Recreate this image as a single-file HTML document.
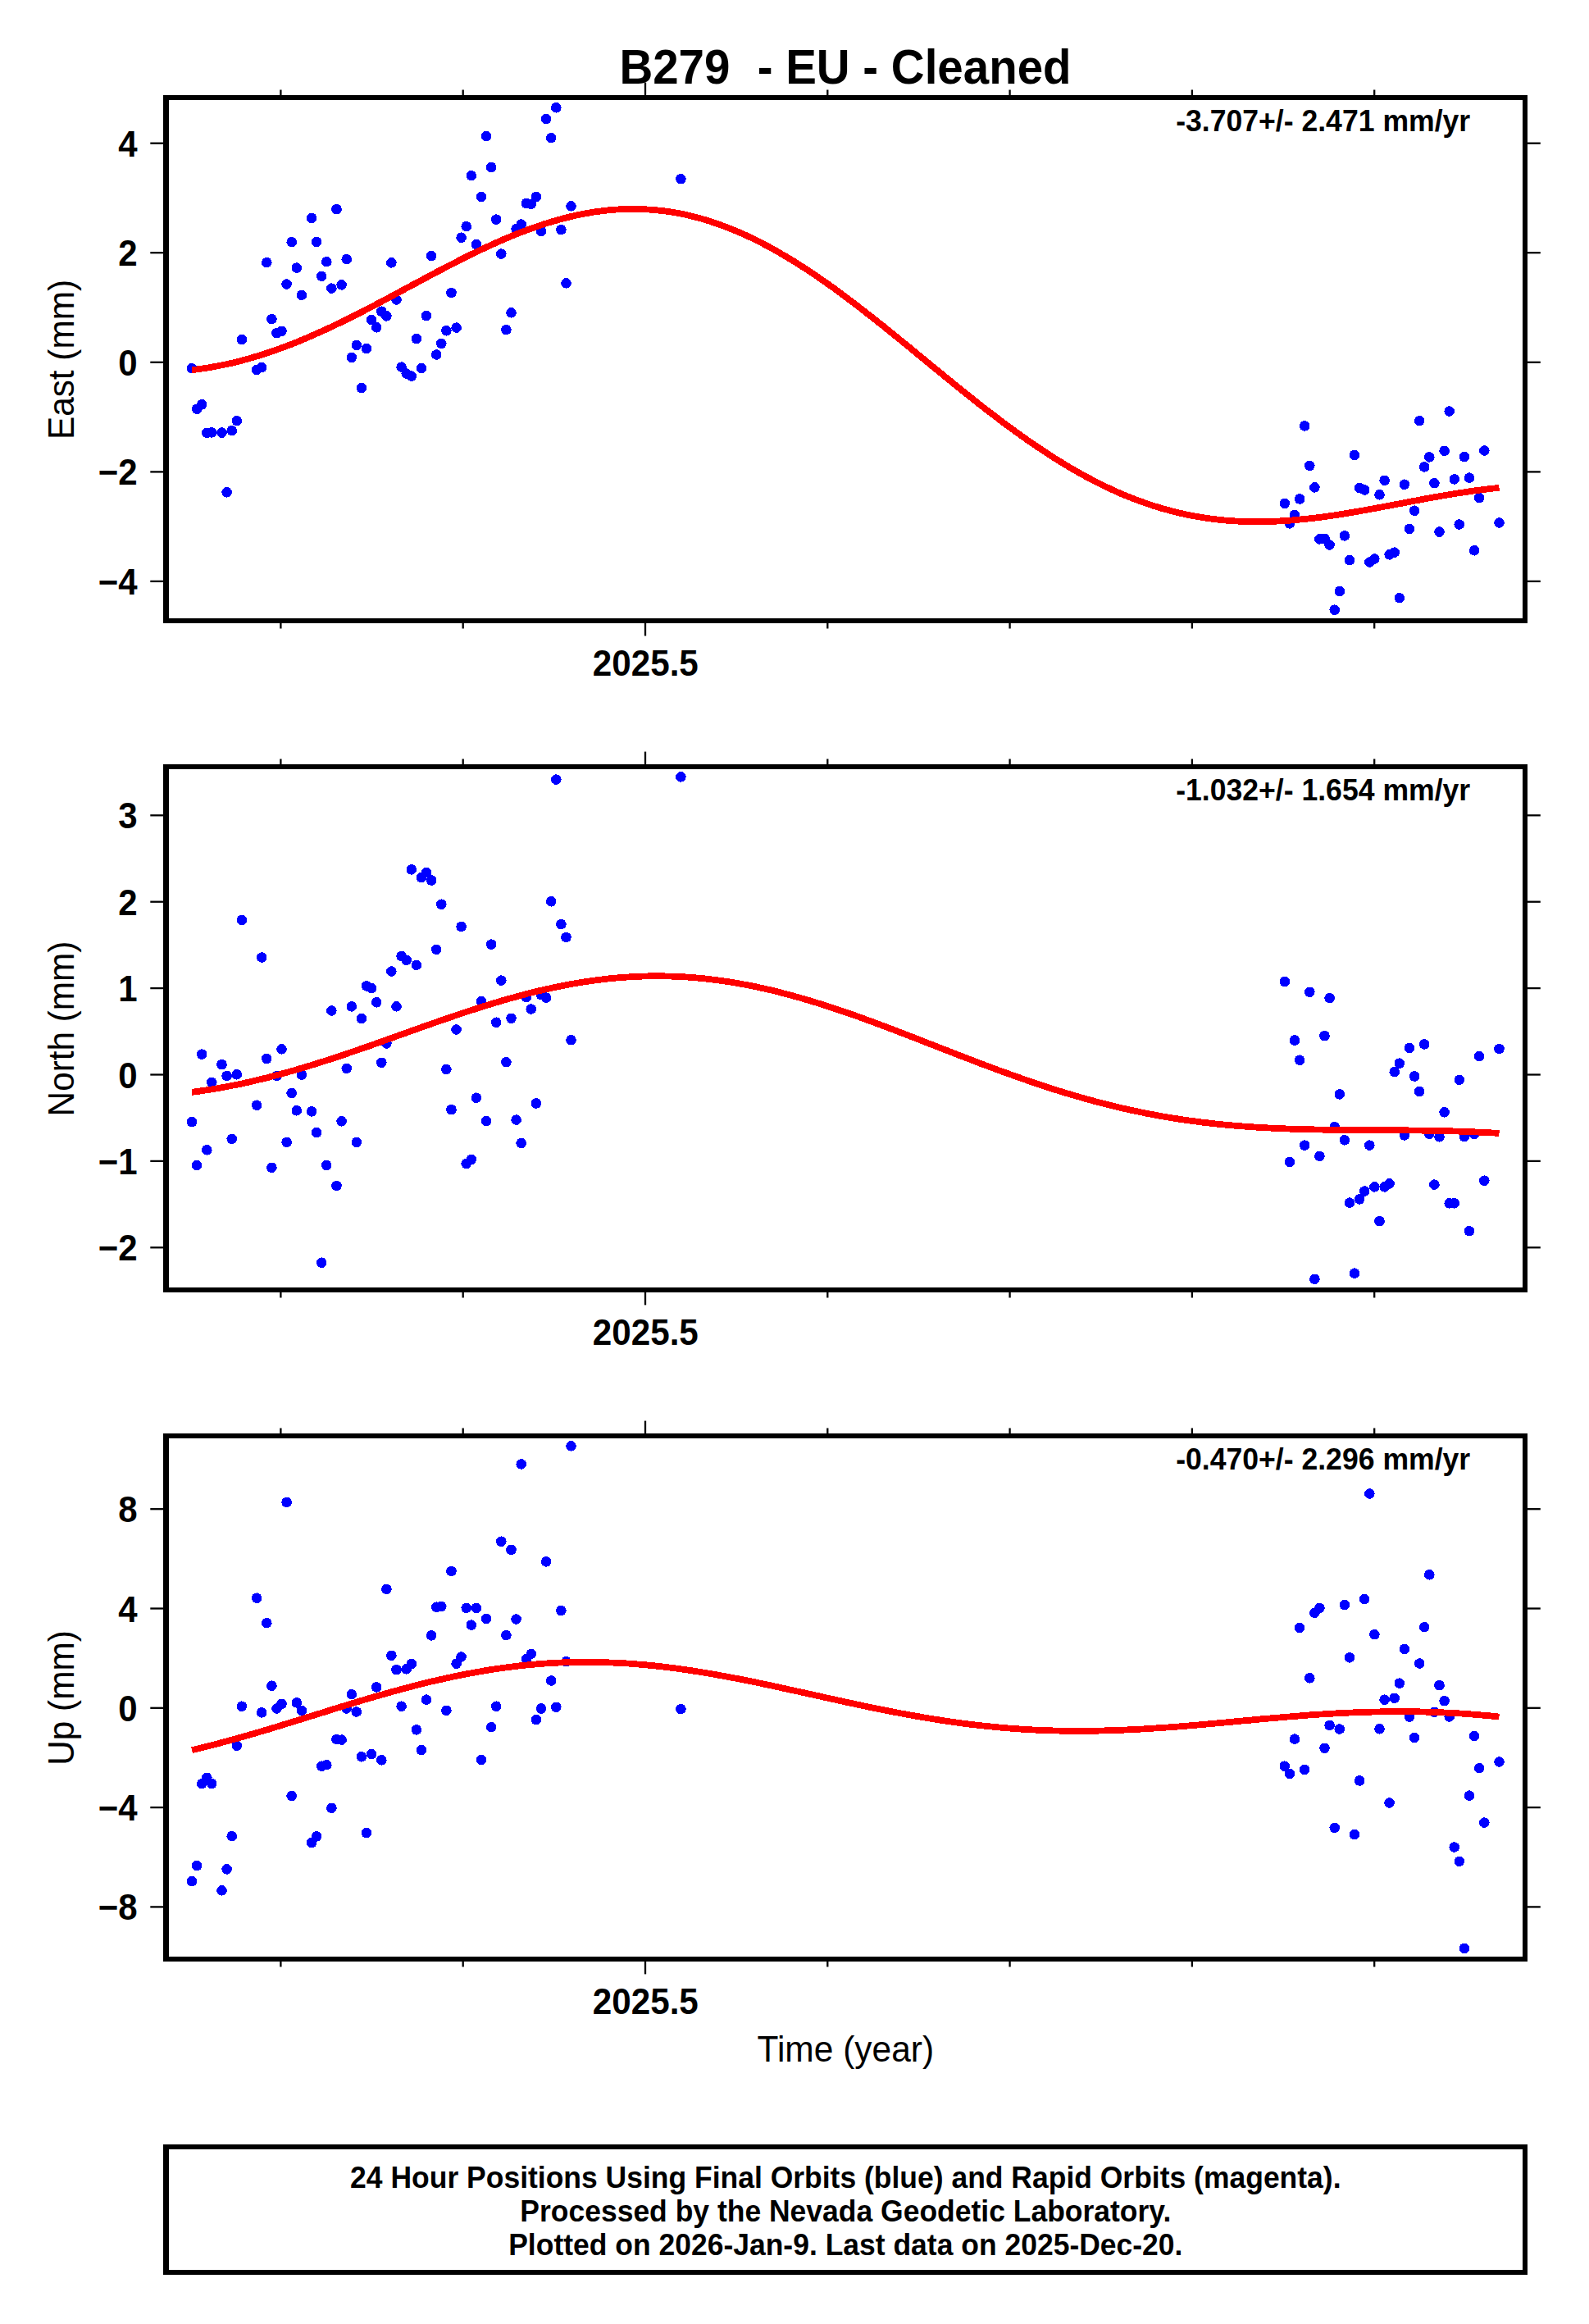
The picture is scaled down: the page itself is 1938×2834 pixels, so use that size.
<!DOCTYPE html>
<html lang="en"><head><meta charset="utf-8"><title>B279 - EU - Cleaned</title>
<style>html,body{margin:0;padding:0;background:#fff}svg{display:block}text{font-family:"Liberation Sans",Arial,Helvetica,sans-serif;fill:#000}.b{font-weight:bold}</style></head><body>
<svg width="1938" height="2834" viewBox="0 0 1938 2834">
<rect width="1938" height="2834" fill="#fff"/>
<text class="b" transform="translate(1031.0,101.7) scale(1,1.055)" font-size="56.5" text-anchor="middle" xml:space="preserve" style="white-space:pre">B279  <tspan dx="1.8">- EU - Cleaned</tspan></text>
<g id="panel0">
<g fill="#0000ff" shape-rendering="crispEdges">
<circle cx="234.0" cy="449.3" r="6.3"/>
<circle cx="240.1" cy="498.7" r="6.3"/>
<circle cx="246.2" cy="493.3" r="6.3"/>
<circle cx="252.3" cy="527.9" r="6.3"/>
<circle cx="258.3" cy="527.4" r="6.3"/>
<circle cx="270.5" cy="527.6" r="6.3"/>
<circle cx="276.6" cy="600.3" r="6.3"/>
<circle cx="282.7" cy="525.1" r="6.3"/>
<circle cx="288.8" cy="513.2" r="6.3"/>
<circle cx="294.9" cy="414.1" r="6.3"/>
<circle cx="313.1" cy="451.0" r="6.3"/>
<circle cx="319.2" cy="448.1" r="6.3"/>
<circle cx="325.3" cy="320.1" r="6.3"/>
<circle cx="331.4" cy="389.1" r="6.3"/>
<circle cx="337.5" cy="406.1" r="6.3"/>
<circle cx="343.5" cy="403.8" r="6.3"/>
<circle cx="349.6" cy="346.5" r="6.3"/>
<circle cx="355.7" cy="295.1" r="6.3"/>
<circle cx="361.8" cy="326.6" r="6.3"/>
<circle cx="367.9" cy="359.8" r="6.3"/>
<circle cx="380.1" cy="265.9" r="6.3"/>
<circle cx="386.1" cy="294.8" r="6.3"/>
<circle cx="392.2" cy="336.8" r="6.3"/>
<circle cx="398.3" cy="319.2" r="6.3"/>
<circle cx="404.4" cy="351.6" r="6.3"/>
<circle cx="410.5" cy="255.1" r="6.3"/>
<circle cx="416.6" cy="347.4" r="6.3"/>
<circle cx="422.7" cy="316.1" r="6.3"/>
<circle cx="428.8" cy="435.9" r="6.3"/>
<circle cx="434.8" cy="420.9" r="6.3"/>
<circle cx="440.9" cy="473.1" r="6.3"/>
<circle cx="447.0" cy="425.1" r="6.3"/>
<circle cx="453.1" cy="390.2" r="6.3"/>
<circle cx="459.2" cy="399.3" r="6.3"/>
<circle cx="465.3" cy="379.7" r="6.3"/>
<circle cx="471.4" cy="385.4" r="6.3"/>
<circle cx="477.4" cy="320.4" r="6.3"/>
<circle cx="483.5" cy="365.5" r="6.3"/>
<circle cx="489.6" cy="447.6" r="6.3"/>
<circle cx="495.7" cy="455.5" r="6.3"/>
<circle cx="501.8" cy="458.6" r="6.3"/>
<circle cx="507.9" cy="413.2" r="6.3"/>
<circle cx="514.0" cy="449.0" r="6.3"/>
<circle cx="520.0" cy="385.1" r="6.3"/>
<circle cx="526.1" cy="312.1" r="6.3"/>
<circle cx="532.2" cy="432.5" r="6.3"/>
<circle cx="538.3" cy="418.9" r="6.3"/>
<circle cx="544.4" cy="403.3" r="6.3"/>
<circle cx="550.5" cy="357.0" r="6.3"/>
<circle cx="556.6" cy="399.6" r="6.3"/>
<circle cx="562.6" cy="289.7" r="6.3"/>
<circle cx="568.7" cy="276.1" r="6.3"/>
<circle cx="574.8" cy="214.2" r="6.3"/>
<circle cx="580.9" cy="298.2" r="6.3"/>
<circle cx="587.0" cy="240.0" r="6.3"/>
<circle cx="593.1" cy="166.2" r="6.3"/>
<circle cx="599.2" cy="204.0" r="6.3"/>
<circle cx="605.2" cy="267.6" r="6.3"/>
<circle cx="611.3" cy="309.6" r="6.3"/>
<circle cx="617.4" cy="402.1" r="6.3"/>
<circle cx="623.5" cy="381.4" r="6.3"/>
<circle cx="629.6" cy="279.2" r="6.3"/>
<circle cx="635.7" cy="273.5" r="6.3"/>
<circle cx="641.8" cy="248.0" r="6.3"/>
<circle cx="647.8" cy="248.8" r="6.3"/>
<circle cx="653.9" cy="240.0" r="6.3"/>
<circle cx="660.0" cy="281.8" r="6.3"/>
<circle cx="666.1" cy="145.2" r="6.3"/>
<circle cx="672.2" cy="168.2" r="6.3"/>
<circle cx="678.3" cy="131.3" r="6.3"/>
<circle cx="684.4" cy="280.1" r="6.3"/>
<circle cx="690.5" cy="345.4" r="6.3"/>
<circle cx="696.5" cy="251.4" r="6.3"/>
<circle cx="830.4" cy="218.2" r="6.3"/>
<circle cx="1566.8" cy="613.9" r="6.3"/>
<circle cx="1572.9" cy="638.4" r="6.3"/>
<circle cx="1579.0" cy="627.9" r="6.3"/>
<circle cx="1585.1" cy="608.5" r="6.3"/>
<circle cx="1591.2" cy="519.4" r="6.3"/>
<circle cx="1597.3" cy="567.9" r="6.3"/>
<circle cx="1603.4" cy="594.4" r="6.3"/>
<circle cx="1609.4" cy="657.4" r="6.3"/>
<circle cx="1615.5" cy="656.8" r="6.3"/>
<circle cx="1621.6" cy="664.5" r="6.3"/>
<circle cx="1627.7" cy="743.7" r="6.3"/>
<circle cx="1633.8" cy="721.0" r="6.3"/>
<circle cx="1639.9" cy="653.4" r="6.3"/>
<circle cx="1646.0" cy="683.2" r="6.3"/>
<circle cx="1652.0" cy="554.9" r="6.3"/>
<circle cx="1658.1" cy="594.9" r="6.3"/>
<circle cx="1664.2" cy="597.5" r="6.3"/>
<circle cx="1670.3" cy="685.5" r="6.3"/>
<circle cx="1676.4" cy="681.5" r="6.3"/>
<circle cx="1682.5" cy="603.2" r="6.3"/>
<circle cx="1688.6" cy="585.8" r="6.3"/>
<circle cx="1694.6" cy="676.4" r="6.3"/>
<circle cx="1700.7" cy="673.6" r="6.3"/>
<circle cx="1706.8" cy="729.2" r="6.3"/>
<circle cx="1712.9" cy="590.7" r="6.3"/>
<circle cx="1719.0" cy="644.9" r="6.3"/>
<circle cx="1725.1" cy="622.7" r="6.3"/>
<circle cx="1731.2" cy="513.2" r="6.3"/>
<circle cx="1737.2" cy="569.4" r="6.3"/>
<circle cx="1743.3" cy="557.4" r="6.3"/>
<circle cx="1749.4" cy="589.2" r="6.3"/>
<circle cx="1755.5" cy="648.6" r="6.3"/>
<circle cx="1761.6" cy="549.8" r="6.3"/>
<circle cx="1767.7" cy="501.5" r="6.3"/>
<circle cx="1773.8" cy="584.4" r="6.3"/>
<circle cx="1779.8" cy="639.5" r="6.3"/>
<circle cx="1785.9" cy="557.2" r="6.3"/>
<circle cx="1792.0" cy="582.7" r="6.3"/>
<circle cx="1798.1" cy="671.3" r="6.3"/>
<circle cx="1804.2" cy="607.1" r="6.3"/>
<circle cx="1810.3" cy="549.5" r="6.3"/>
<circle cx="1828.5" cy="637.5" r="6.3"/>
</g>
<path d="M234.0,451.2 L244.0,449.9 L254.1,448.4 L264.1,446.6 L274.1,444.6 L284.1,442.4 L294.2,439.9 L304.2,437.1 L314.2,434.2 L324.3,431.0 L334.3,427.6 L344.3,424.0 L354.3,420.2 L364.4,416.2 L374.4,412.0 L384.4,407.6 L394.5,403.1 L404.5,398.5 L414.5,393.7 L424.5,388.7 L434.6,383.7 L444.6,378.6 L454.6,373.4 L464.7,368.1 L474.7,362.8 L484.7,357.4 L494.7,352.0 L504.8,346.6 L514.8,341.3 L524.8,335.9 L534.8,330.6 L544.9,325.4 L554.9,320.2 L564.9,315.1 L575.0,310.1 L585.0,305.3 L595.0,300.6 L605.0,296.0 L615.1,291.6 L625.1,287.4 L635.1,283.4 L645.2,279.6 L655.2,276.1 L665.2,272.7 L675.2,269.7 L685.3,266.8 L695.3,264.3 L705.3,262.0 L715.4,260.1 L725.4,258.4 L735.4,257.1 L745.4,256.0 L755.5,255.3 L765.5,254.9 L775.5,254.9 L785.6,255.2 L795.6,255.8 L805.6,256.8 L815.6,258.1 L825.7,259.7 L835.7,261.7 L845.7,264.1 L855.8,266.8 L865.8,269.8 L875.8,273.2 L885.8,276.9 L895.9,280.9 L905.9,285.2 L915.9,289.8 L926.0,294.8 L936.0,300.0 L946.0,305.5 L956.0,311.3 L966.1,317.3 L976.1,323.6 L986.1,330.1 L996.2,336.9 L1006.2,343.8 L1016.2,350.9 L1026.2,358.3 L1036.3,365.8 L1046.3,373.4 L1056.3,381.2 L1066.3,389.0 L1076.4,397.0 L1086.4,405.1 L1096.4,413.2 L1106.5,421.4 L1116.5,429.6 L1126.5,437.9 L1136.5,446.1 L1146.6,454.3 L1156.6,462.5 L1166.6,470.7 L1176.7,478.8 L1186.7,486.8 L1196.7,494.7 L1206.7,502.5 L1216.8,510.1 L1226.8,517.7 L1236.8,525.0 L1246.9,532.2 L1256.9,539.3 L1266.9,546.1 L1276.9,552.7 L1287.0,559.2 L1297.0,565.4 L1307.0,571.4 L1317.1,577.1 L1327.1,582.6 L1337.1,587.8 L1347.1,592.8 L1357.2,597.5 L1367.2,602.0 L1377.2,606.1 L1387.3,610.0 L1397.3,613.6 L1407.3,617.0 L1417.3,620.0 L1427.4,622.8 L1437.4,625.3 L1447.4,627.6 L1457.5,629.5 L1467.5,631.2 L1477.5,632.7 L1487.5,633.9 L1497.6,634.8 L1507.6,635.5 L1517.6,635.9 L1527.7,636.2 L1537.7,636.2 L1547.7,636.0 L1557.7,635.6 L1567.8,635.0 L1577.8,634.3 L1587.8,633.3 L1597.8,632.3 L1607.9,631.1 L1617.9,629.7 L1627.9,628.3 L1638.0,626.7 L1648.0,625.0 L1658.0,623.3 L1668.0,621.5 L1678.1,619.7 L1688.1,617.8 L1698.1,615.9 L1708.2,614.0 L1718.2,612.1 L1728.2,610.2 L1738.2,608.3 L1748.3,606.5 L1758.3,604.7 L1768.3,603.0 L1778.4,601.4 L1788.4,599.9 L1798.4,598.4 L1808.4,597.1 L1818.5,595.9 L1828.5,594.8" fill="none" stroke="#ff0000" stroke-width="7.8" stroke-linejoin="round" stroke-linecap="butt" shape-rendering="crispEdges"/>
<g stroke="#000" stroke-width="2.3">
<line x1="342.4" x2="342.4" y1="109.5" y2="119.0"/>
<line x1="342.4" x2="342.4" y1="757.0" y2="766.5"/>
<line x1="564.7" x2="564.7" y1="109.5" y2="119.0"/>
<line x1="564.7" x2="564.7" y1="757.0" y2="766.5"/>
<line x1="787.0" x2="787.0" y1="100.6" y2="119.0"/>
<line x1="787.0" x2="787.0" y1="757.0" y2="775.4"/>
<line x1="1009.3" x2="1009.3" y1="109.5" y2="119.0"/>
<line x1="1009.3" x2="1009.3" y1="757.0" y2="766.5"/>
<line x1="1231.6" x2="1231.6" y1="109.5" y2="119.0"/>
<line x1="1231.6" x2="1231.6" y1="757.0" y2="766.5"/>
<line x1="1453.9" x2="1453.9" y1="109.5" y2="119.0"/>
<line x1="1453.9" x2="1453.9" y1="757.0" y2="766.5"/>
<line x1="1676.2" x2="1676.2" y1="109.5" y2="119.0"/>
<line x1="1676.2" x2="1676.2" y1="757.0" y2="766.5"/>
<line x1="183.3" x2="202.5" y1="174.7" y2="174.7"/>
<line x1="1860.0" x2="1878.8" y1="174.7" y2="174.7"/>
<line x1="183.3" x2="202.5" y1="308.2" y2="308.2"/>
<line x1="1860.0" x2="1878.8" y1="308.2" y2="308.2"/>
<line x1="183.3" x2="202.5" y1="441.8" y2="441.8"/>
<line x1="1860.0" x2="1878.8" y1="441.8" y2="441.8"/>
<line x1="183.3" x2="202.5" y1="575.4" y2="575.4"/>
<line x1="1860.0" x2="1878.8" y1="575.4" y2="575.4"/>
<line x1="183.3" x2="202.5" y1="708.9" y2="708.9"/>
<line x1="1860.0" x2="1878.8" y1="708.9" y2="708.9"/>
</g>
<path fill="#000" fill-rule="evenodd" d="M199,116H1863V760H199ZM206,122V754H1857V122Z"/>
<text class="b" transform="translate(167.6,190.7) scale(1,1.065)" font-size="42.0" text-anchor="end">4</text>
<text class="b" transform="translate(167.6,324.2) scale(1,1.065)" font-size="42.0" text-anchor="end">2</text>
<text class="b" transform="translate(167.6,457.8) scale(1,1.065)" font-size="42.0" text-anchor="end">0</text>
<text class="b" transform="translate(167.6,591.4) scale(1,1.065)" font-size="42.0" text-anchor="end">−2</text>
<text class="b" transform="translate(167.6,724.9) scale(1,1.065)" font-size="42.0" text-anchor="end">−4</text>
<text class="b" transform="translate(787.3,823.8) scale(1,1.065)" font-size="42.2" text-anchor="middle">2025.5</text>
<text transform="translate(90.0,438.5) rotate(-90) scale(1,1.055)" font-size="42.3" text-anchor="middle">East (mm)</text>
<text class="b" transform="translate(1793.2,160.3) scale(1,1.055)" font-size="35.6" text-anchor="end">-3.707+/- 2.471 mm/yr</text>
</g>
<g id="panel1">
<g fill="#0000ff" shape-rendering="crispEdges">
<circle cx="234.0" cy="1368.2" r="6.3"/>
<circle cx="240.1" cy="1421.0" r="6.3"/>
<circle cx="246.2" cy="1285.6" r="6.3"/>
<circle cx="252.3" cy="1402.3" r="6.3"/>
<circle cx="258.3" cy="1319.9" r="6.3"/>
<circle cx="270.5" cy="1298.1" r="6.3"/>
<circle cx="276.6" cy="1312.0" r="6.3"/>
<circle cx="282.7" cy="1388.9" r="6.3"/>
<circle cx="288.8" cy="1310.3" r="6.3"/>
<circle cx="294.9" cy="1122.0" r="6.3"/>
<circle cx="313.1" cy="1347.7" r="6.3"/>
<circle cx="319.2" cy="1167.5" r="6.3"/>
<circle cx="325.3" cy="1291.0" r="6.3"/>
<circle cx="331.4" cy="1423.8" r="6.3"/>
<circle cx="337.5" cy="1312.0" r="6.3"/>
<circle cx="343.5" cy="1279.3" r="6.3"/>
<circle cx="349.6" cy="1392.9" r="6.3"/>
<circle cx="355.7" cy="1333.0" r="6.3"/>
<circle cx="361.8" cy="1354.3" r="6.3"/>
<circle cx="367.9" cy="1310.6" r="6.3"/>
<circle cx="380.1" cy="1355.4" r="6.3"/>
<circle cx="386.1" cy="1381.2" r="6.3"/>
<circle cx="392.2" cy="1539.7" r="6.3"/>
<circle cx="398.3" cy="1421.0" r="6.3"/>
<circle cx="404.4" cy="1232.5" r="6.3"/>
<circle cx="410.5" cy="1446.0" r="6.3"/>
<circle cx="416.6" cy="1367.3" r="6.3"/>
<circle cx="422.7" cy="1302.9" r="6.3"/>
<circle cx="428.8" cy="1227.4" r="6.3"/>
<circle cx="434.8" cy="1392.9" r="6.3"/>
<circle cx="440.9" cy="1242.1" r="6.3"/>
<circle cx="447.0" cy="1202.4" r="6.3"/>
<circle cx="453.1" cy="1205.2" r="6.3"/>
<circle cx="459.2" cy="1222.3" r="6.3"/>
<circle cx="465.3" cy="1295.8" r="6.3"/>
<circle cx="471.4" cy="1272.5" r="6.3"/>
<circle cx="477.4" cy="1184.5" r="6.3"/>
<circle cx="483.5" cy="1227.4" r="6.3"/>
<circle cx="489.6" cy="1166.0" r="6.3"/>
<circle cx="495.7" cy="1170.9" r="6.3"/>
<circle cx="501.8" cy="1060.4" r="6.3"/>
<circle cx="507.9" cy="1176.8" r="6.3"/>
<circle cx="514.0" cy="1070.1" r="6.3"/>
<circle cx="520.0" cy="1064.1" r="6.3"/>
<circle cx="526.1" cy="1073.5" r="6.3"/>
<circle cx="532.2" cy="1157.8" r="6.3"/>
<circle cx="538.3" cy="1102.7" r="6.3"/>
<circle cx="544.4" cy="1304.0" r="6.3"/>
<circle cx="550.5" cy="1353.1" r="6.3"/>
<circle cx="556.6" cy="1255.5" r="6.3"/>
<circle cx="562.6" cy="1130.0" r="6.3"/>
<circle cx="568.7" cy="1419.0" r="6.3"/>
<circle cx="574.8" cy="1413.9" r="6.3"/>
<circle cx="580.9" cy="1338.7" r="6.3"/>
<circle cx="587.0" cy="1221.1" r="6.3"/>
<circle cx="593.1" cy="1367.1" r="6.3"/>
<circle cx="599.2" cy="1151.6" r="6.3"/>
<circle cx="605.2" cy="1246.7" r="6.3"/>
<circle cx="611.3" cy="1195.6" r="6.3"/>
<circle cx="617.4" cy="1295.2" r="6.3"/>
<circle cx="623.5" cy="1241.8" r="6.3"/>
<circle cx="629.6" cy="1365.6" r="6.3"/>
<circle cx="635.7" cy="1394.0" r="6.3"/>
<circle cx="641.8" cy="1216.0" r="6.3"/>
<circle cx="647.8" cy="1230.5" r="6.3"/>
<circle cx="653.9" cy="1345.5" r="6.3"/>
<circle cx="660.0" cy="1213.2" r="6.3"/>
<circle cx="666.1" cy="1216.6" r="6.3"/>
<circle cx="672.2" cy="1099.3" r="6.3"/>
<circle cx="678.3" cy="950.6" r="6.3"/>
<circle cx="684.4" cy="1127.1" r="6.3"/>
<circle cx="690.5" cy="1143.0" r="6.3"/>
<circle cx="696.5" cy="1268.2" r="6.3"/>
<circle cx="830.4" cy="947.4" r="6.3"/>
<circle cx="1566.8" cy="1197.0" r="6.3"/>
<circle cx="1572.9" cy="1417.0" r="6.3"/>
<circle cx="1579.0" cy="1268.5" r="6.3"/>
<circle cx="1585.1" cy="1292.7" r="6.3"/>
<circle cx="1591.2" cy="1396.6" r="6.3"/>
<circle cx="1597.3" cy="1209.8" r="6.3"/>
<circle cx="1603.4" cy="1559.8" r="6.3"/>
<circle cx="1609.4" cy="1409.9" r="6.3"/>
<circle cx="1615.5" cy="1263.1" r="6.3"/>
<circle cx="1621.6" cy="1217.1" r="6.3"/>
<circle cx="1627.7" cy="1374.1" r="6.3"/>
<circle cx="1633.8" cy="1334.4" r="6.3"/>
<circle cx="1639.9" cy="1390.3" r="6.3"/>
<circle cx="1646.0" cy="1466.7" r="6.3"/>
<circle cx="1652.0" cy="1552.7" r="6.3"/>
<circle cx="1658.1" cy="1462.4" r="6.3"/>
<circle cx="1664.2" cy="1452.5" r="6.3"/>
<circle cx="1670.3" cy="1396.6" r="6.3"/>
<circle cx="1676.4" cy="1447.4" r="6.3"/>
<circle cx="1682.5" cy="1489.1" r="6.3"/>
<circle cx="1688.6" cy="1447.4" r="6.3"/>
<circle cx="1694.6" cy="1443.4" r="6.3"/>
<circle cx="1700.7" cy="1307.1" r="6.3"/>
<circle cx="1706.8" cy="1296.6" r="6.3"/>
<circle cx="1712.9" cy="1384.4" r="6.3"/>
<circle cx="1719.0" cy="1277.9" r="6.3"/>
<circle cx="1725.1" cy="1312.5" r="6.3"/>
<circle cx="1731.2" cy="1331.0" r="6.3"/>
<circle cx="1737.2" cy="1273.4" r="6.3"/>
<circle cx="1743.3" cy="1382.7" r="6.3"/>
<circle cx="1749.4" cy="1444.6" r="6.3"/>
<circle cx="1755.5" cy="1386.4" r="6.3"/>
<circle cx="1761.6" cy="1356.3" r="6.3"/>
<circle cx="1767.7" cy="1467.3" r="6.3"/>
<circle cx="1773.8" cy="1467.3" r="6.3"/>
<circle cx="1779.8" cy="1316.8" r="6.3"/>
<circle cx="1785.9" cy="1386.1" r="6.3"/>
<circle cx="1792.0" cy="1501.3" r="6.3"/>
<circle cx="1798.1" cy="1382.9" r="6.3"/>
<circle cx="1804.2" cy="1288.1" r="6.3"/>
<circle cx="1810.3" cy="1439.7" r="6.3"/>
<circle cx="1828.5" cy="1279.0" r="6.3"/>
</g>
<path d="M234.0,1331.9 L244.0,1330.5 L254.1,1329.0 L264.1,1327.4 L274.1,1325.6 L284.1,1323.6 L294.2,1321.6 L304.2,1319.4 L314.2,1317.0 L324.3,1314.6 L334.3,1312.0 L344.3,1309.3 L354.3,1306.5 L364.4,1303.6 L374.4,1300.6 L384.4,1297.5 L394.5,1294.3 L404.5,1291.1 L414.5,1287.8 L424.5,1284.4 L434.6,1281.0 L444.6,1277.5 L454.6,1274.0 L464.7,1270.4 L474.7,1266.8 L484.7,1263.3 L494.7,1259.7 L504.8,1256.1 L514.8,1252.5 L524.8,1249.0 L534.8,1245.5 L544.9,1242.0 L554.9,1238.6 L564.9,1235.2 L575.0,1231.9 L585.0,1228.7 L595.0,1225.5 L605.0,1222.5 L615.1,1219.5 L625.1,1216.7 L635.1,1213.9 L645.2,1211.3 L655.2,1208.8 L665.2,1206.5 L675.2,1204.3 L685.3,1202.2 L695.3,1200.3 L705.3,1198.5 L715.4,1196.9 L725.4,1195.5 L735.4,1194.2 L745.4,1193.1 L755.5,1192.2 L765.5,1191.5 L775.5,1190.9 L785.6,1190.5 L795.6,1190.3 L805.6,1190.3 L815.6,1190.5 L825.7,1190.8 L835.7,1191.4 L845.7,1192.1 L855.8,1193.0 L865.8,1194.1 L875.8,1195.4 L885.8,1196.8 L895.9,1198.4 L905.9,1200.2 L915.9,1202.1 L926.0,1204.2 L936.0,1206.4 L946.0,1208.8 L956.0,1211.4 L966.1,1214.1 L976.1,1216.9 L986.1,1219.8 L996.2,1222.9 L1006.2,1226.0 L1016.2,1229.3 L1026.2,1232.7 L1036.3,1236.1 L1046.3,1239.6 L1056.3,1243.3 L1066.3,1246.9 L1076.4,1250.7 L1086.4,1254.5 L1096.4,1258.3 L1106.5,1262.2 L1116.5,1266.0 L1126.5,1270.0 L1136.5,1273.9 L1146.6,1277.8 L1156.6,1281.7 L1166.6,1285.6 L1176.7,1289.5 L1186.7,1293.3 L1196.7,1297.2 L1206.7,1300.9 L1216.8,1304.7 L1226.8,1308.3 L1236.8,1311.9 L1246.9,1315.5 L1256.9,1318.9 L1266.9,1322.3 L1276.9,1325.6 L1287.0,1328.9 L1297.0,1332.0 L1307.0,1335.0 L1317.1,1337.9 L1327.1,1340.8 L1337.1,1343.5 L1347.1,1346.1 L1357.2,1348.6 L1367.2,1351.0 L1377.2,1353.3 L1387.3,1355.4 L1397.3,1357.5 L1407.3,1359.4 L1417.3,1361.3 L1427.4,1363.0 L1437.4,1364.6 L1447.4,1366.1 L1457.5,1367.4 L1467.5,1368.7 L1477.5,1369.9 L1487.5,1371.0 L1497.6,1371.9 L1507.6,1372.8 L1517.6,1373.6 L1527.7,1374.3 L1537.7,1375.0 L1547.7,1375.5 L1557.7,1376.0 L1567.8,1376.4 L1577.8,1376.8 L1587.8,1377.1 L1597.8,1377.3 L1607.9,1377.5 L1617.9,1377.7 L1627.9,1377.8 L1638.0,1377.9 L1648.0,1378.0 L1658.0,1378.0 L1668.0,1378.1 L1678.1,1378.1 L1688.1,1378.2 L1698.1,1378.2 L1708.2,1378.3 L1718.2,1378.4 L1728.2,1378.5 L1738.2,1378.7 L1748.3,1378.8 L1758.3,1379.0 L1768.3,1379.3 L1778.4,1379.6 L1788.4,1380.0 L1798.4,1380.4 L1808.4,1380.8 L1818.5,1381.4 L1828.5,1381.9" fill="none" stroke="#ff0000" stroke-width="7.8" stroke-linejoin="round" stroke-linecap="butt" shape-rendering="crispEdges"/>
<g stroke="#000" stroke-width="2.3">
<line x1="342.4" x2="342.4" y1="925.5" y2="935.0"/>
<line x1="342.4" x2="342.4" y1="1573.0" y2="1582.5"/>
<line x1="564.7" x2="564.7" y1="925.5" y2="935.0"/>
<line x1="564.7" x2="564.7" y1="1573.0" y2="1582.5"/>
<line x1="787.0" x2="787.0" y1="916.6" y2="935.0"/>
<line x1="787.0" x2="787.0" y1="1573.0" y2="1591.4"/>
<line x1="1009.3" x2="1009.3" y1="925.5" y2="935.0"/>
<line x1="1009.3" x2="1009.3" y1="1573.0" y2="1582.5"/>
<line x1="1231.6" x2="1231.6" y1="925.5" y2="935.0"/>
<line x1="1231.6" x2="1231.6" y1="1573.0" y2="1582.5"/>
<line x1="1453.9" x2="1453.9" y1="925.5" y2="935.0"/>
<line x1="1453.9" x2="1453.9" y1="1573.0" y2="1582.5"/>
<line x1="1676.2" x2="1676.2" y1="925.5" y2="935.0"/>
<line x1="1676.2" x2="1676.2" y1="1573.0" y2="1582.5"/>
<line x1="183.3" x2="202.5" y1="994.3" y2="994.3"/>
<line x1="1860.0" x2="1878.8" y1="994.3" y2="994.3"/>
<line x1="183.3" x2="202.5" y1="1099.7" y2="1099.7"/>
<line x1="1860.0" x2="1878.8" y1="1099.7" y2="1099.7"/>
<line x1="183.3" x2="202.5" y1="1205.1" y2="1205.1"/>
<line x1="1860.0" x2="1878.8" y1="1205.1" y2="1205.1"/>
<line x1="183.3" x2="202.5" y1="1310.5" y2="1310.5"/>
<line x1="1860.0" x2="1878.8" y1="1310.5" y2="1310.5"/>
<line x1="183.3" x2="202.5" y1="1415.9" y2="1415.9"/>
<line x1="1860.0" x2="1878.8" y1="1415.9" y2="1415.9"/>
<line x1="183.3" x2="202.5" y1="1521.3" y2="1521.3"/>
<line x1="1860.0" x2="1878.8" y1="1521.3" y2="1521.3"/>
</g>
<path fill="#000" fill-rule="evenodd" d="M199,932H1863V1576H199ZM206,938V1570H1857V938Z"/>
<text class="b" transform="translate(167.6,1010.3) scale(1,1.065)" font-size="42.0" text-anchor="end">3</text>
<text class="b" transform="translate(167.6,1115.7) scale(1,1.065)" font-size="42.0" text-anchor="end">2</text>
<text class="b" transform="translate(167.6,1221.1) scale(1,1.065)" font-size="42.0" text-anchor="end">1</text>
<text class="b" transform="translate(167.6,1326.5) scale(1,1.065)" font-size="42.0" text-anchor="end">0</text>
<text class="b" transform="translate(167.6,1431.9) scale(1,1.065)" font-size="42.0" text-anchor="end">−1</text>
<text class="b" transform="translate(167.6,1537.3) scale(1,1.065)" font-size="42.0" text-anchor="end">−2</text>
<text class="b" transform="translate(787.3,1639.8) scale(1,1.065)" font-size="42.2" text-anchor="middle">2025.5</text>
<text transform="translate(90.0,1254.5) rotate(-90) scale(1,1.055)" font-size="42.3" text-anchor="middle">North (mm)</text>
<text class="b" transform="translate(1793.2,976.3) scale(1,1.055)" font-size="35.6" text-anchor="end">-1.032+/- 1.654 mm/yr</text>
</g>
<g id="panel2">
<g fill="#0000ff" shape-rendering="crispEdges">
<circle cx="234.0" cy="2294.2" r="6.3"/>
<circle cx="240.1" cy="2275.2" r="6.3"/>
<circle cx="246.2" cy="2175.2" r="6.3"/>
<circle cx="252.3" cy="2167.9" r="6.3"/>
<circle cx="258.3" cy="2175.0" r="6.3"/>
<circle cx="270.5" cy="2305.3" r="6.3"/>
<circle cx="276.6" cy="2279.4" r="6.3"/>
<circle cx="282.7" cy="2239.1" r="6.3"/>
<circle cx="288.8" cy="2128.7" r="6.3"/>
<circle cx="294.9" cy="2080.7" r="6.3"/>
<circle cx="313.1" cy="1948.7" r="6.3"/>
<circle cx="319.2" cy="2088.4" r="6.3"/>
<circle cx="325.3" cy="1979.1" r="6.3"/>
<circle cx="331.4" cy="2055.7" r="6.3"/>
<circle cx="337.5" cy="2083.5" r="6.3"/>
<circle cx="343.5" cy="2077.9" r="6.3"/>
<circle cx="349.6" cy="1832.0" r="6.3"/>
<circle cx="355.7" cy="2190.0" r="6.3"/>
<circle cx="361.8" cy="2076.4" r="6.3"/>
<circle cx="367.9" cy="2085.8" r="6.3"/>
<circle cx="380.1" cy="2247.1" r="6.3"/>
<circle cx="386.1" cy="2239.4" r="6.3"/>
<circle cx="392.2" cy="2153.7" r="6.3"/>
<circle cx="398.3" cy="2152.2" r="6.3"/>
<circle cx="404.4" cy="2204.8" r="6.3"/>
<circle cx="410.5" cy="2121.0" r="6.3"/>
<circle cx="416.6" cy="2121.6" r="6.3"/>
<circle cx="422.7" cy="2083.5" r="6.3"/>
<circle cx="428.8" cy="2066.2" r="6.3"/>
<circle cx="434.8" cy="2087.5" r="6.3"/>
<circle cx="440.9" cy="2142.3" r="6.3"/>
<circle cx="447.0" cy="2235.1" r="6.3"/>
<circle cx="453.1" cy="2139.2" r="6.3"/>
<circle cx="459.2" cy="2057.4" r="6.3"/>
<circle cx="465.3" cy="2146.3" r="6.3"/>
<circle cx="471.4" cy="1937.9" r="6.3"/>
<circle cx="477.4" cy="2018.8" r="6.3"/>
<circle cx="483.5" cy="2036.1" r="6.3"/>
<circle cx="489.6" cy="2080.7" r="6.3"/>
<circle cx="495.7" cy="2035.3" r="6.3"/>
<circle cx="501.8" cy="2029.0" r="6.3"/>
<circle cx="507.9" cy="2109.4" r="6.3"/>
<circle cx="514.0" cy="2134.1" r="6.3"/>
<circle cx="520.0" cy="2072.7" r="6.3"/>
<circle cx="526.1" cy="1994.4" r="6.3"/>
<circle cx="532.2" cy="1959.7" r="6.3"/>
<circle cx="538.3" cy="1958.9" r="6.3"/>
<circle cx="544.4" cy="2085.8" r="6.3"/>
<circle cx="550.5" cy="1916.0" r="6.3"/>
<circle cx="556.6" cy="2028.7" r="6.3"/>
<circle cx="562.6" cy="2020.5" r="6.3"/>
<circle cx="568.7" cy="1960.9" r="6.3"/>
<circle cx="574.8" cy="1981.6" r="6.3"/>
<circle cx="580.9" cy="1960.9" r="6.3"/>
<circle cx="587.0" cy="2146.0" r="6.3"/>
<circle cx="593.1" cy="1973.9" r="6.3"/>
<circle cx="599.2" cy="2106.2" r="6.3"/>
<circle cx="605.2" cy="2080.7" r="6.3"/>
<circle cx="611.3" cy="1879.7" r="6.3"/>
<circle cx="617.4" cy="1994.1" r="6.3"/>
<circle cx="623.5" cy="1889.9" r="6.3"/>
<circle cx="629.6" cy="1974.5" r="6.3"/>
<circle cx="635.7" cy="1785.4" r="6.3"/>
<circle cx="641.8" cy="2023.1" r="6.3"/>
<circle cx="647.8" cy="2016.8" r="6.3"/>
<circle cx="653.9" cy="2097.2" r="6.3"/>
<circle cx="660.0" cy="2083.5" r="6.3"/>
<circle cx="666.1" cy="1904.4" r="6.3"/>
<circle cx="672.2" cy="2049.5" r="6.3"/>
<circle cx="678.3" cy="2081.8" r="6.3"/>
<circle cx="684.4" cy="1964.0" r="6.3"/>
<circle cx="690.5" cy="2026.2" r="6.3"/>
<circle cx="696.5" cy="1763.3" r="6.3"/>
<circle cx="830.4" cy="2084.1" r="6.3"/>
<circle cx="1566.8" cy="2153.7" r="6.3"/>
<circle cx="1572.9" cy="2163.0" r="6.3"/>
<circle cx="1579.0" cy="2120.7" r="6.3"/>
<circle cx="1585.1" cy="1985.0" r="6.3"/>
<circle cx="1591.2" cy="2157.9" r="6.3"/>
<circle cx="1597.3" cy="2046.3" r="6.3"/>
<circle cx="1603.4" cy="1966.8" r="6.3"/>
<circle cx="1609.4" cy="1960.9" r="6.3"/>
<circle cx="1615.5" cy="2131.8" r="6.3"/>
<circle cx="1621.6" cy="2104.0" r="6.3"/>
<circle cx="1627.7" cy="2228.9" r="6.3"/>
<circle cx="1633.8" cy="2108.5" r="6.3"/>
<circle cx="1639.9" cy="1957.2" r="6.3"/>
<circle cx="1646.0" cy="2021.4" r="6.3"/>
<circle cx="1652.0" cy="2237.1" r="6.3"/>
<circle cx="1658.1" cy="2171.5" r="6.3"/>
<circle cx="1664.2" cy="1950.1" r="6.3"/>
<circle cx="1670.3" cy="1821.5" r="6.3"/>
<circle cx="1676.4" cy="1993.2" r="6.3"/>
<circle cx="1682.5" cy="2108.2" r="6.3"/>
<circle cx="1688.6" cy="2072.7" r="6.3"/>
<circle cx="1694.6" cy="2198.5" r="6.3"/>
<circle cx="1700.7" cy="2070.8" r="6.3"/>
<circle cx="1706.8" cy="2052.6" r="6.3"/>
<circle cx="1712.9" cy="2010.9" r="6.3"/>
<circle cx="1719.0" cy="2093.5" r="6.3"/>
<circle cx="1725.1" cy="2119.0" r="6.3"/>
<circle cx="1731.2" cy="2028.5" r="6.3"/>
<circle cx="1737.2" cy="1984.2" r="6.3"/>
<circle cx="1743.3" cy="1920.3" r="6.3"/>
<circle cx="1749.4" cy="2087.8" r="6.3"/>
<circle cx="1755.5" cy="2055.1" r="6.3"/>
<circle cx="1761.6" cy="2074.2" r="6.3"/>
<circle cx="1767.7" cy="2093.5" r="6.3"/>
<circle cx="1773.8" cy="2252.5" r="6.3"/>
<circle cx="1779.8" cy="2269.8" r="6.3"/>
<circle cx="1785.9" cy="2376.0" r="6.3"/>
<circle cx="1792.0" cy="2189.7" r="6.3"/>
<circle cx="1798.1" cy="2117.0" r="6.3"/>
<circle cx="1804.2" cy="2156.2" r="6.3"/>
<circle cx="1810.3" cy="2222.6" r="6.3"/>
<circle cx="1828.5" cy="2148.5" r="6.3"/>
</g>
<path d="M234.0,2134.2 L244.0,2131.8 L254.1,2129.3 L264.1,2126.7 L274.1,2124.0 L284.1,2121.3 L294.2,2118.5 L304.2,2115.6 L314.2,2112.7 L324.3,2109.7 L334.3,2106.7 L344.3,2103.6 L354.3,2100.5 L364.4,2097.4 L374.4,2094.3 L384.4,2091.2 L394.5,2088.1 L404.5,2084.9 L414.5,2081.8 L424.5,2078.8 L434.6,2075.7 L444.6,2072.7 L454.6,2069.8 L464.7,2066.9 L474.7,2064.0 L484.7,2061.3 L494.7,2058.6 L504.8,2055.9 L514.8,2053.4 L524.8,2050.9 L534.8,2048.6 L544.9,2046.3 L554.9,2044.2 L564.9,2042.1 L575.0,2040.2 L585.0,2038.4 L595.0,2036.7 L605.0,2035.1 L615.1,2033.7 L625.1,2032.4 L635.1,2031.2 L645.2,2030.2 L655.2,2029.3 L665.2,2028.5 L675.2,2027.9 L685.3,2027.4 L695.3,2027.1 L705.3,2026.9 L715.4,2026.8 L725.4,2026.9 L735.4,2027.1 L745.4,2027.5 L755.5,2027.9 L765.5,2028.5 L775.5,2029.3 L785.6,2030.1 L795.6,2031.1 L805.6,2032.2 L815.6,2033.4 L825.7,2034.7 L835.7,2036.1 L845.7,2037.6 L855.8,2039.2 L865.8,2040.9 L875.8,2042.6 L885.8,2044.5 L895.9,2046.4 L905.9,2048.3 L915.9,2050.3 L926.0,2052.4 L936.0,2054.5 L946.0,2056.7 L956.0,2058.9 L966.1,2061.1 L976.1,2063.3 L986.1,2065.5 L996.2,2067.7 L1006.2,2070.0 L1016.2,2072.2 L1026.2,2074.4 L1036.3,2076.6 L1046.3,2078.7 L1056.3,2080.9 L1066.3,2082.9 L1076.4,2085.0 L1086.4,2087.0 L1096.4,2088.9 L1106.5,2090.8 L1116.5,2092.6 L1126.5,2094.3 L1136.5,2096.0 L1146.6,2097.6 L1156.6,2099.1 L1166.6,2100.5 L1176.7,2101.9 L1186.7,2103.1 L1196.7,2104.3 L1206.7,2105.3 L1216.8,2106.3 L1226.8,2107.2 L1236.8,2108.0 L1246.9,2108.7 L1256.9,2109.3 L1266.9,2109.8 L1276.9,2110.2 L1287.0,2110.5 L1297.0,2110.7 L1307.0,2110.8 L1317.1,2110.9 L1327.1,2110.8 L1337.1,2110.7 L1347.1,2110.4 L1357.2,2110.2 L1367.2,2109.8 L1377.2,2109.3 L1387.3,2108.8 L1397.3,2108.3 L1407.3,2107.6 L1417.3,2107.0 L1427.4,2106.2 L1437.4,2105.5 L1447.4,2104.6 L1457.5,2103.8 L1467.5,2102.9 L1477.5,2102.0 L1487.5,2101.1 L1497.6,2100.2 L1507.6,2099.2 L1517.6,2098.3 L1527.7,2097.4 L1537.7,2096.4 L1547.7,2095.5 L1557.7,2094.7 L1567.8,2093.8 L1577.8,2093.0 L1587.8,2092.2 L1597.8,2091.4 L1607.9,2090.7 L1617.9,2090.1 L1627.9,2089.5 L1638.0,2088.9 L1648.0,2088.5 L1658.0,2088.1 L1668.0,2087.7 L1678.1,2087.5 L1688.1,2087.3 L1698.1,2087.2 L1708.2,2087.1 L1718.2,2087.2 L1728.2,2087.3 L1738.2,2087.6 L1748.3,2087.9 L1758.3,2088.3 L1768.3,2088.8 L1778.4,2089.3 L1788.4,2090.0 L1798.4,2090.8 L1808.4,2091.6 L1818.5,2092.5 L1828.5,2093.6" fill="none" stroke="#ff0000" stroke-width="7.8" stroke-linejoin="round" stroke-linecap="butt" shape-rendering="crispEdges"/>
<g stroke="#000" stroke-width="2.3">
<line x1="342.4" x2="342.4" y1="1741.5" y2="1751.0"/>
<line x1="342.4" x2="342.4" y1="2389.0" y2="2398.5"/>
<line x1="564.7" x2="564.7" y1="1741.5" y2="1751.0"/>
<line x1="564.7" x2="564.7" y1="2389.0" y2="2398.5"/>
<line x1="787.0" x2="787.0" y1="1732.6" y2="1751.0"/>
<line x1="787.0" x2="787.0" y1="2389.0" y2="2407.4"/>
<line x1="1009.3" x2="1009.3" y1="1741.5" y2="1751.0"/>
<line x1="1009.3" x2="1009.3" y1="2389.0" y2="2398.5"/>
<line x1="1231.6" x2="1231.6" y1="1741.5" y2="1751.0"/>
<line x1="1231.6" x2="1231.6" y1="2389.0" y2="2398.5"/>
<line x1="1453.9" x2="1453.9" y1="1741.5" y2="1751.0"/>
<line x1="1453.9" x2="1453.9" y1="2389.0" y2="2398.5"/>
<line x1="1676.2" x2="1676.2" y1="1741.5" y2="1751.0"/>
<line x1="1676.2" x2="1676.2" y1="2389.0" y2="2398.5"/>
<line x1="183.3" x2="202.5" y1="1840.2" y2="1840.2"/>
<line x1="1860.0" x2="1878.8" y1="1840.2" y2="1840.2"/>
<line x1="183.3" x2="202.5" y1="1961.5" y2="1961.5"/>
<line x1="1860.0" x2="1878.8" y1="1961.5" y2="1961.5"/>
<line x1="183.3" x2="202.5" y1="2082.8" y2="2082.8"/>
<line x1="1860.0" x2="1878.8" y1="2082.8" y2="2082.8"/>
<line x1="183.3" x2="202.5" y1="2204.1" y2="2204.1"/>
<line x1="1860.0" x2="1878.8" y1="2204.1" y2="2204.1"/>
<line x1="183.3" x2="202.5" y1="2325.4" y2="2325.4"/>
<line x1="1860.0" x2="1878.8" y1="2325.4" y2="2325.4"/>
</g>
<path fill="#000" fill-rule="evenodd" d="M199,1748H1863V2392H199ZM206,1754V2386H1857V1754Z"/>
<text class="b" transform="translate(167.6,1856.2) scale(1,1.065)" font-size="42.0" text-anchor="end">8</text>
<text class="b" transform="translate(167.6,1977.5) scale(1,1.065)" font-size="42.0" text-anchor="end">4</text>
<text class="b" transform="translate(167.6,2098.8) scale(1,1.065)" font-size="42.0" text-anchor="end">0</text>
<text class="b" transform="translate(167.6,2220.1) scale(1,1.065)" font-size="42.0" text-anchor="end">−4</text>
<text class="b" transform="translate(167.6,2341.4) scale(1,1.065)" font-size="42.0" text-anchor="end">−8</text>
<text class="b" transform="translate(787.3,2455.8) scale(1,1.065)" font-size="42.2" text-anchor="middle">2025.5</text>
<text transform="translate(90.0,2070.5) rotate(-90) scale(1,1.055)" font-size="42.3" text-anchor="middle">Up (mm)</text>
<text class="b" transform="translate(1793.2,1792.3) scale(1,1.055)" font-size="35.6" text-anchor="end">-0.470+/- 2.296 mm/yr</text>
</g>
<text transform="translate(1031.3,2514.2) scale(1,1.055)" font-size="42.5" text-anchor="middle">Time (year)</text>
<path fill="#000" fill-rule="evenodd" d="M199,2615H1863V2774H199ZM206,2621V2768H1857V2621Z"/>
<text class="b" transform="translate(1031.3,2667.5) scale(1,1.055)" font-size="35.5" text-anchor="middle">24 Hour Positions Using Final Orbits (blue) and Rapid Orbits (magenta).</text>
<text class="b" transform="translate(1031.3,2708.5) scale(1,1.055)" font-size="35.5" text-anchor="middle">Processed by the Nevada Geodetic Laboratory.</text>
<text class="b" transform="translate(1031.3,2749.5) scale(1,1.055)" font-size="35.5" text-anchor="middle">Plotted on 2026-Jan-9. Last data on 2025-Dec-20.</text>
</svg></body></html>
